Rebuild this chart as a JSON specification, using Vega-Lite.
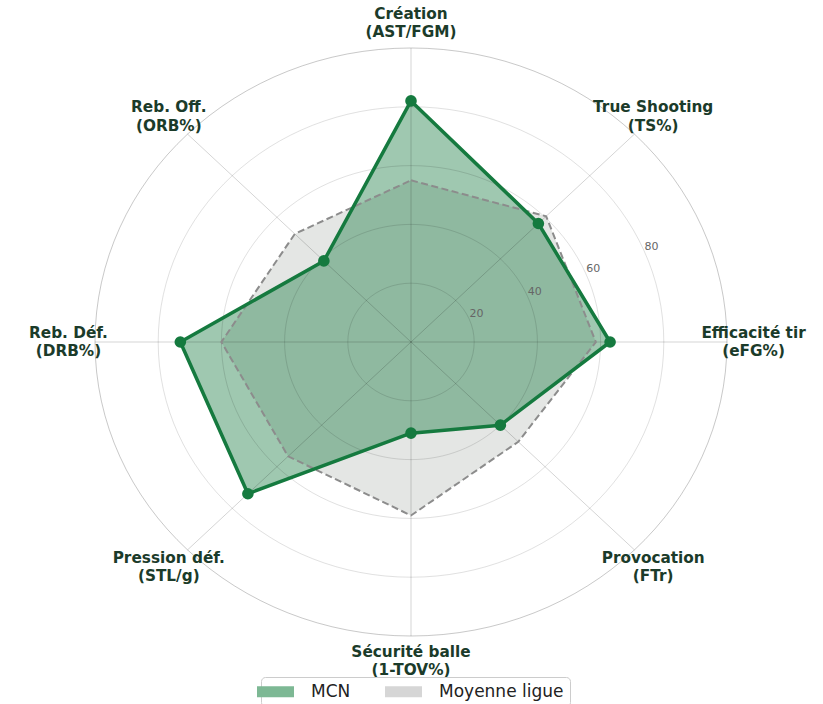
{
  "$schema": "https://vega.github.io/schema/vega-lite/v6.json",
  "width": 632,
  "height": 588,
  "autosize": {"type": "none"},
  "padding": {"left": 95, "top": 48, "right": 96, "bottom": 68},
  "background": "white",
  "config": {"view": {"stroke": null}, "font": "DejaVu Sans"},
  "datasets": {
    "profil": [
      {"i": 0, "serie": "MCN", "valeur": 82},
      {"i": 1, "serie": "MCN", "valeur": 57},
      {"i": 2, "serie": "MCN", "valeur": 63},
      {"i": 3, "serie": "MCN", "valeur": 40},
      {"i": 4, "serie": "MCN", "valeur": 31},
      {"i": 5, "serie": "MCN", "valeur": 73},
      {"i": 6, "serie": "MCN", "valeur": 73},
      {"i": 7, "serie": "MCN", "valeur": 39},
      {"i": 0, "serie": "Moyenne ligue", "valeur": 55},
      {"i": 1, "serie": "Moyenne ligue", "valeur": 60.5},
      {"i": 2, "serie": "Moyenne ligue", "valeur": 58.5},
      {"i": 3, "serie": "Moyenne ligue", "valeur": 48},
      {"i": 4, "serie": "Moyenne ligue", "valeur": 59},
      {"i": 5, "serie": "Moyenne ligue", "valeur": 55},
      {"i": 6, "serie": "Moyenne ligue", "valeur": 60},
      {"i": 7, "serie": "Moyenne ligue", "valeur": 52}
    ],
    "axes": [
      {"i": 0, "titre": "Création\n(AST/FGM)"},
      {"i": 1, "titre": "True Shooting\n(TS%)"},
      {"i": 2, "titre": "Efficacité tir\n(eFG%)"},
      {"i": 3, "titre": "Provocation\n(FTr)"},
      {"i": 4, "titre": "Sécurité balle\n(1-TOV%)"},
      {"i": 5, "titre": "Pression déf.\n(STL/g)"},
      {"i": 6, "titre": "Reb. Déf.\n(DRB%)"},
      {"i": 7, "titre": "Reb. Off.\n(ORB%)"}
    ],
    "grille": [{"r": 20}, {"r": 40}, {"r": 60}, {"r": 80}, {"r": 100}]
  },
  "layer": [
    {
      "data": {"name": "profil"},
      "transform": [
        {"filter": "datum.serie == 'Moyenne ligue'"},
        {"calculate": "datum.valeur * sin(datum.i * PI / 4)", "as": "x"},
        {"calculate": "datum.valeur * cos(datum.i * PI / 4)", "as": "y"}
      ],
      "mark": {"type": "line", "interpolate": "linear-closed", "fill": "#e4e6e4", "strokeOpacity": 0},
      "encoding": {
        "x": {"field": "x", "type": "quantitative", "scale": {"domain": [-100, 100], "nice": false}, "axis": null},
        "y": {"field": "y", "type": "quantitative", "scale": {"domain": [-100, 100], "nice": false}, "axis": null},
        "order": {"field": "i", "type": "quantitative"}
      }
    },
    {
      "data": {"name": "profil"},
      "transform": [
        {"filter": "datum.serie == 'MCN'"},
        {"calculate": "datum.valeur * sin(datum.i * PI / 4)", "as": "x"},
        {"calculate": "datum.valeur * cos(datum.i * PI / 4)", "as": "y"}
      ],
      "mark": {"type": "line", "interpolate": "linear-closed", "fill": "#157a3f", "fillOpacity": 0.41, "strokeOpacity": 0},
      "encoding": {
        "x": {"field": "x", "type": "quantitative"},
        "y": {"field": "y", "type": "quantitative"},
        "order": {"field": "i", "type": "quantitative"}
      }
    },
    {
      "data": {"name": "grille"},
      "transform": [
        {"calculate": "0", "as": "cx"}
      ],
      "mark": {
        "type": "point",
        "shape": "M1,0C1,0.5139,0.5523,0.9304,0,0.9304C-0.5523,0.9304,-1,0.5139,-1,0C-1,-0.5139,-0.5523,-0.9304,0,-0.9304C0.5523,-0.9304,1,-0.5139,1,0Z",
        "filled": false,
        "stroke": "black",
        "strokeWidth": 1
      },
      "encoding": {
        "x": {"field": "cx", "type": "quantitative"},
        "y": {"field": "cx", "type": "quantitative"},
        "size": {"field": "r", "type": "quantitative", "scale": {"type": "pow", "exponent": 2, "domain": [0, 100], "range": [0, 399424]}, "legend": null},
        "strokeOpacity": {"condition": {"test": "datum.r == 100", "value": 0.3}, "value": 0.17}
      }
    },
    {
      "data": {"name": "axes"},
      "transform": [
        {"calculate": "100 * sin(datum.i * PI / 4)", "as": "ex"},
        {"calculate": "100 * cos(datum.i * PI / 4)", "as": "ey"},
        {"calculate": "0", "as": "cx"}
      ],
      "mark": {"type": "rule", "stroke": "black", "strokeOpacity": 0.17, "strokeWidth": 1},
      "encoding": {
        "x": {"field": "cx", "type": "quantitative"},
        "y": {"field": "cx", "type": "quantitative"},
        "x2": {"field": "ex"},
        "y2": {"field": "ey"}
      }
    },
    {
      "data": {"name": "profil"},
      "transform": [
        {"filter": "datum.serie == 'Moyenne ligue'"},
        {"calculate": "datum.valeur * sin(datum.i * PI / 4)", "as": "x"},
        {"calculate": "datum.valeur * cos(datum.i * PI / 4)", "as": "y"}
      ],
      "mark": {"type": "line", "interpolate": "linear-closed", "stroke": "#8c8c8c", "strokeWidth": 2, "strokeDash": [7, 3.5]},
      "encoding": {
        "x": {"field": "x", "type": "quantitative"},
        "y": {"field": "y", "type": "quantitative"},
        "order": {"field": "i", "type": "quantitative"}
      }
    },
    {
      "data": {"name": "profil"},
      "transform": [
        {"filter": "datum.serie == 'MCN'"},
        {"calculate": "datum.valeur * sin(datum.i * PI / 4)", "as": "x"},
        {"calculate": "datum.valeur * cos(datum.i * PI / 4)", "as": "y"}
      ],
      "mark": {"type": "line", "interpolate": "linear-closed", "stroke": "#157a3f", "strokeWidth": 3.5, "strokeJoin": "round"},
      "encoding": {
        "x": {"field": "x", "type": "quantitative"},
        "y": {"field": "y", "type": "quantitative"},
        "order": {"field": "i", "type": "quantitative"}
      }
    },
    {
      "data": {"name": "profil"},
      "transform": [
        {"filter": "datum.serie == 'MCN'"},
        {"calculate": "datum.valeur * sin(datum.i * PI / 4)", "as": "x"},
        {"calculate": "datum.valeur * cos(datum.i * PI / 4)", "as": "y"}
      ],
      "mark": {"type": "circle", "size": 135, "fill": "#157a3f", "opacity": 1},
      "encoding": {
        "x": {"field": "x", "type": "quantitative"},
        "y": {"field": "y", "type": "quantitative"}
      }
    },
    {
      "data": {"name": "grille"},
      "transform": [
        {"filter": "datum.r < 100"},
        {"calculate": "datum.r * cos(PI / 8)", "as": "x"},
        {"calculate": "datum.r * sin(PI / 8)", "as": "y"}
      ],
      "mark": {"type": "text", "align": "left", "baseline": "bottom", "fontSize": 11, "color": "#666666", "font": "DejaVu Sans"},
      "encoding": {
        "x": {"field": "x", "type": "quantitative"},
        "y": {"field": "y", "type": "quantitative"},
        "text": {"field": "r", "type": "quantitative"}
      }
    },
    {
      "data": {"name": "axes"},
      "transform": [
        {"calculate": "108.4 * sin(datum.i * PI / 4)", "as": "x"},
        {"calculate": "108.4 * cos(datum.i * PI / 4)", "as": "y"}
      ],
      "mark": {"type": "text", "align": "center", "baseline": "middle", "lineBreak": "\n", "lineHeight": 18.3, "dy": -9.15, "fontSize": 15.3, "fontWeight": "bold", "color": "#1b3b2a", "font": "DejaVu Sans"},
      "encoding": {
        "x": {"field": "x", "type": "quantitative"},
        "y": {"field": "y", "type": "quantitative"},
        "text": {"field": "titre", "type": "nominal"}
      }
    },
    {
      "data": {"name": "profil"},
      "transform": [
        {"calculate": "datum.valeur * sin(datum.i * PI / 4)", "as": "x"},
        {"calculate": "datum.valeur * cos(datum.i * PI / 4)", "as": "y"}
      ],
      "mark": {"type": "point", "filled": true, "opacity": 0},
      "encoding": {
        "x": {"field": "x", "type": "quantitative"},
        "y": {"field": "y", "type": "quantitative"},
        "fill": {
          "field": "serie",
          "type": "nominal",
          "scale": {"domain": ["MCN", "Moyenne ligue"], "range": ["#7db894", "#d6d6d6"]},
          "legend": {
            "orient": "none",
            "legendX": 166,
            "legendY": 629,
            "direction": "horizontal",
            "title": null,
            "symbolType": "M-3.364,-1H3.364V1H-3.364Z",
            "symbolSize": 121,
            "symbolOpacity": 1,
            "symbolStrokeWidth": 0,
            "labelFontSize": 17,
            "labelColor": "#222222",
            "labelFont": "DejaVu Sans",
            "labelOffset": 27,
            "columnPadding": 33,
            "padding": 6,
            "strokeColor": "#cccccc",
            "fillColor": "white",
            "cornerRadius": 4
          }
        }
      }
    }
  ]
}
